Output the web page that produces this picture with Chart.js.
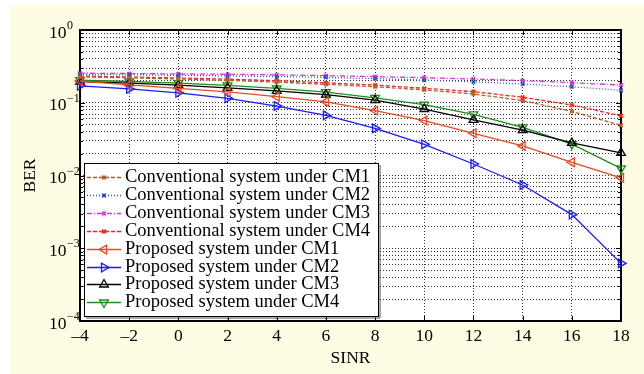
<!DOCTYPE html>
<html>
<head>
<meta charset="utf-8">
<script src="https://cdn.jsdelivr.net/npm/chart.js@4.4.1/dist/chart.umd.min.js"></script>
<style>
  html, body { margin: 0; padding: 0; background: #fff; }
  canvas { display: block; }
</style>
</head>
<body>
<canvas id="berChart" width="644" height="374"></canvas>
<script>
// values
const sinr = [-4, -2, 0, 2, 4, 6, 8, 10, 12, 14, 16, 18];
const convCM1 = [0.227, 0.220, 0.212, 0.203, 0.192, 0.179, 0.166, 0.150, 0.132, 0.107, 0.076, 0.049];
const convCM2 = [0.245, 0.242, 0.238, 0.234, 0.229, 0.223, 0.215, 0.205, 0.194, 0.181, 0.166, 0.148];
const convCM3 = [0.255, 0.252, 0.249, 0.246, 0.242, 0.236, 0.229, 0.221, 0.212, 0.202, 0.189, 0.175];
const convCM4 = [0.233, 0.226, 0.219, 0.211, 0.201, 0.188, 0.175, 0.158, 0.142, 0.119, 0.093, 0.066];
const propCM1 = [0.199, 0.176, 0.158, 0.141, 0.121, 0.103, 0.078, 0.057, 0.038, 0.0255, 0.0152, 0.0093];
const propCM2 = [0.171, 0.155, 0.137, 0.115, 0.090, 0.067, 0.0445, 0.0268, 0.0144, 0.0074, 0.0029, 0.00062];
const propCM3 = [0.196, 0.186, 0.175, 0.160, 0.146, 0.129, 0.109, 0.082, 0.058, 0.042, 0.028, 0.0205];
const propCM4 = [0.205, 0.196, 0.186, 0.173, 0.158, 0.140, 0.117, 0.094, 0.069, 0.046, 0.027, 0.0125];

const xTicks = [-4, -2, 0, 2, 4, 6, 8, 10, 12, 14, 16, 18];
const yMajor = [1e-4, 1e-3, 1e-2, 1e-1, 1];
const yExpLabels = ['\u22124', '\u22123', '\u22122', '\u22121', '0'];

// minor log ticks 2..9 in each decade
const yAllTicks = [];
yMajor.forEach((d, i) => {
  yAllTicks.push(d);
  if (i < yMajor.length - 1) {
    for (let k = 2; k <= 9; k++) yAllTicks.push(+(k * d).toPrecision(3));
  }
});

const serif = '"Liberation Serif", "Times New Roman", serif';

function pts(arr) {
  return sinr.map((x, i) => ({ x: x, y: arr[i] }));
}

function convSet(label, data, color, dash) {
  return {
    label, data: pts(data),
    borderColor: color, backgroundColor: color,
    borderWidth: 1.3, borderDash: dash,
    pointStyle: 'crossRot', pointRadius: 2.5, pointBorderWidth: 1.8,
    pointBorderColor: color, pointBackgroundColor: color,
    tension: 0, clip: false,
  };
}

function propSet(label, data, color, rot) {
  return {
    label, data: pts(data),
    borderColor: color, backgroundColor: color,
    borderWidth: 1.3,
    pointStyle: 'triangle', pointRotation: rot, pointRadius: 5, pointBorderWidth: 1.3,
    pointBorderColor: color, pointBackgroundColor: 'rgba(0,0,0,0)',
    tension: 0, clip: false,
  };
}

const datasets = [
  convSet('Conventional system under CM1', convCM1, '#B8602C', [4, 2]),
  convSet('Conventional system under CM2', convCM2, '#3355BB', [1, 2]),
  convSet('Conventional system under CM3', convCM3, '#DD33DD', [5, 2, 1, 2]),
  convSet('Conventional system under CM4', convCM4, '#FF2222', [4, 2]),
  propSet('Proposed system under CM1', propCM1, '#E84A25', -90),
  propSet('Proposed system under CM2', propCM2, '#1A1AFF', 90),
  propSet('Proposed system under CM3', propCM3, '#000000', 0),
  propSet('Proposed system under CM4', propCM4, '#1E8C1E', 180),
];

const backdrop = {
  id: 'backdrop',
  beforeDraw(chart) {
    const { ctx, chartArea: a } = chart;
    ctx.save();
    ctx.fillStyle = '#ffffff';
    ctx.fillRect(0, 0, chart.width, chart.height);
    ctx.fillStyle = '#FEFDE3';
    ctx.fillRect(10, 5, chart.width - 10, chart.height - 5);
    ctx.fillStyle = '#ffffff';
    ctx.fillRect(a.left, a.top, a.right - a.left, a.bottom - a.top);
    ctx.restore();
  },
};

// axes box with inward ticks, plus y labels as 10^n
const axesBox = {
  id: 'axesBox',
  beforeDatasetsDraw(chart) {
    const { ctx, chartArea: a, scales } = chart;
    const xs = scales.x, ys = scales.y;
    ctx.save();
    ctx.strokeStyle = '#000';
    ctx.lineWidth = 1;
    ctx.beginPath();
    xTicks.forEach(v => {
      const px = Math.round(xs.getPixelForValue(v)) + 0.5;
      ctx.moveTo(px, a.bottom); ctx.lineTo(px, a.bottom - 5);
      ctx.moveTo(px, a.top); ctx.lineTo(px, a.top + 5);
    });
    yAllTicks.forEach(v => {
      const py = Math.round(ys.getPixelForValue(v)) + 0.5;
      const len = yMajor.includes(v) ? 5 : 3;
      ctx.moveTo(a.left, py); ctx.lineTo(a.left + len, py);
      ctx.moveTo(a.right, py); ctx.lineTo(a.right - len, py);
    });
    ctx.stroke();
    ctx.lineWidth = 2;
    ctx.strokeRect(a.left, a.top, a.right - a.left, a.bottom - a.top);

    ctx.fillStyle = '#000';
    ctx.textBaseline = 'middle';
    ctx.textAlign = 'left';
    yMajor.forEach((v, i) => {
      const py = ys.getPixelForValue(v);
      ctx.font = '17.5px ' + serif;
      ctx.fillText('10', 49, py + 3);
      const w = ctx.measureText('10').width;
      ctx.font = '12px ' + serif;
      ctx.fillText(yExpLabels[i], 49 + w + 0.5, py - 4);
    });
    ctx.restore();
  },
};

const boxLegend = {
  id: 'boxLegend',
  afterDatasetsDraw(chart) {
    const { ctx } = chart;
    const L = 84, T = 163, R = 378, B = 316;
    ctx.save();
    ctx.fillStyle = '#fff';
    ctx.fillRect(L, T, R - L, B - T);
    ctx.strokeStyle = '#000';
    ctx.lineWidth = 1;
    ctx.strokeRect(L + 0.5, T + 0.5, R - L, B - T);
    ctx.strokeStyle = '#555';
    ctx.beginPath();
    ctx.moveTo(L + 2, B + 2); ctx.lineTo(R + 2, B + 2); ctx.lineTo(R + 2, T + 2);
    ctx.stroke();

    chart.data.datasets.forEach((ds, i) => {
      const y = Math.round(177 + i * 17.9) + 0.5;
      ctx.strokeStyle = ds.borderColor;
      ctx.lineWidth = ds.borderWidth;
      ctx.setLineDash(ds.borderDash || []);
      ctx.beginPath();
      ctx.moveTo(87, y); ctx.lineTo(121, y);
      ctx.stroke();
      ctx.setLineDash([]);
      ctx.fillStyle = ds.pointBackgroundColor;
      ctx.lineWidth = ds.pointBorderWidth;
      Chart.helpers.drawPoint(ctx, {
        pointStyle: ds.pointStyle,
        rotation: ds.pointRotation || 0,
        radius: ds.pointRadius,
        borderWidth: ds.pointBorderWidth,
      }, 104, y);
      ctx.fillStyle = '#000';
      ctx.font = '18.5px ' + serif;
      ctx.textBaseline = 'middle';
      ctx.textAlign = 'left';
      ctx.fillText(ds.label, 125, y);
    });
    ctx.restore();
  },
};

const gridLine = {
  color: 'rgba(0,0,0,0.8)',
  lineWidth: 1,
  drawTicks: false,
};

new Chart(document.getElementById('berChart').getContext('2d'), {
  type: 'line',
  data: { datasets },
  options: {
    responsive: false,
    animation: false,
    devicePixelRatio: 1,
    layout: { padding: { left: 0, top: 30, right: 23, bottom: 0 } },
    plugins: { legend: { display: false }, tooltip: { enabled: false } },
    scales: {
      x: {
        type: 'linear', min: -4, max: 18,
        afterBuildTicks: s => { s.ticks = xTicks.map(v => ({ value: v })); },
        afterFit: s => { s.height = 53; },
        grid: gridLine,
        border: { display: false, dash: [1, 2] },
        ticks: {
          autoSkip: false, maxRotation: 0, padding: 5, color: '#000',
          font: { family: serif, size: 17.5 },
          callback: v => (v < 0 ? '\u2013' + (-v) : String(v)),
        },
        title: {
          display: true, text: 'SINR', color: '#000',
          font: { family: serif, size: 17.5 }, padding: { top: 0, bottom: 5 },
        },
      },
      y: {
        type: 'logarithmic', min: 1e-4, max: 1,
        afterBuildTicks: s => { s.ticks = yAllTicks.map(v => ({ value: v })); },
        afterFit: s => { s.width = 80; },
        grid: gridLine,
        border: { display: false, dash: [1, 2] },
        ticks: { display: false },
        title: {
          display: true, text: 'BER', color: '#000',
          font: { family: serif, size: 17.5 }, padding: { top: 20, bottom: 0 },
        },
      },
    },
  },
  plugins: [backdrop, axesBox, boxLegend],
});
</script>
</body>
</html>
